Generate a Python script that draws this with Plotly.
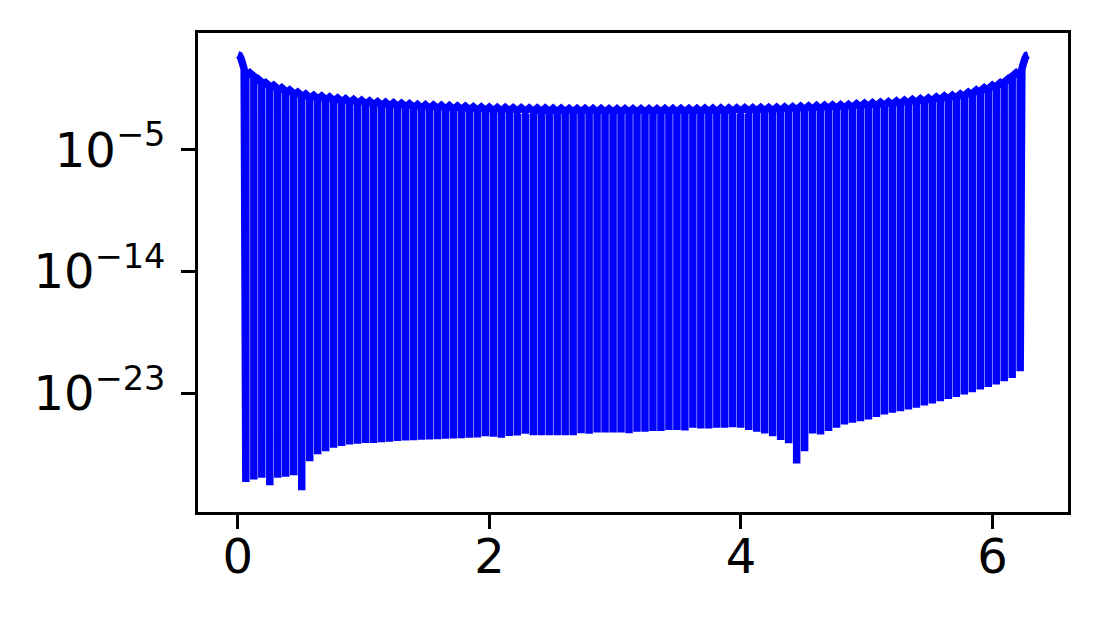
import numpy as np
import plotly.graph_objects as go

# sample nodes: 98 equally spaced interior points, step 2*pi/99
n_nodes = 98
step = 2 * np.pi / 99

# log10 of the value at each node (the deep minima), k = 1..98
node_log = [
    -29.57, -29.37, -29.25, -29.81, -29.25, -29.17, -29.07, -30.17, -28.02, -27.52,
    -27.28, -27.03, -26.91, -26.79, -26.74, -26.67, -26.67, -26.62, -26.58, -26.54,
    -26.50, -26.47, -26.44, -26.42, -26.40, -26.37, -26.35, -26.33, -26.30, -26.28,
    -26.18, -26.22, -26.30, -26.17, -26.12, -26.00, -26.10, -26.10, -26.10, -26.10,
    -26.10, -26.10, -25.95, -26.00, -25.90, -25.90, -25.90, -25.90, -25.95, -25.85,
    -25.85, -25.80, -25.80, -25.71, -25.71, -25.75, -25.56, -25.61, -25.61, -25.56,
    -25.56, -25.51, -25.56, -25.71, -25.85, -25.97, -26.18, -26.45, -26.70, -28.20,
    -27.28, -25.98, -26.05, -25.80, -25.56, -25.31, -25.19, -25.07, -24.94, -24.75,
    -24.57, -24.45, -24.33, -24.20, -24.08, -23.91, -23.76, -23.59, -23.42, -23.27,
    -23.10, -22.93, -22.73, -22.54, -22.36, -22.11, -21.87, -21.38,
]

# log10 of the bump tops between node k and node k+1, k = 1..97
peak_log = [
    0.68, 0.24, -0.06, -0.25, -0.43, -0.60, -0.76, -0.90, -0.99, -1.04,
    -1.11, -1.19, -1.24, -1.29, -1.36, -1.41, -1.46, -1.51, -1.53, -1.58,
    -1.61, -1.66, -1.68, -1.70, -1.73, -1.75, -1.78, -1.80, -1.83, -1.85,
    -1.87, -1.88, -1.89, -1.90, -1.91, -1.92, -1.93, -1.935, -1.94, -1.95,
    -1.955, -1.96, -1.965, -1.97, -1.97, -1.975, -1.975, -1.98, -1.98, -1.98,
    -1.975, -1.975, -1.97, -1.97, -1.965, -1.96, -1.955, -1.95, -1.94, -1.935,
    -1.93, -1.92, -1.91, -1.90, -1.89, -1.88, -1.87, -1.85, -1.83, -1.80,
    -1.78, -1.75, -1.73, -1.70, -1.68, -1.66, -1.61, -1.58, -1.53, -1.51,
    -1.46, -1.41, -1.36, -1.29, -1.24, -1.19, -1.11, -1.04, -0.99, -0.90,
    -0.76, -0.60, -0.43, -0.25, -0.06, 0.24, 0.68,
]

# curve at the two ends (before the first node / after the last one)
start_x = [0.0, 0.012, 0.025, 0.038, 0.05]
start_log = [2.02, 1.98, 1.75, 1.35, 0.95]
end_x = [6.233, 6.245, 6.258, 6.271, 6.283]
end_log = [0.95, 1.35, 1.75, 1.98, 2.02]

shoulder = 0.25  # how far the bump top sags at a node before the drop

xs = list(start_x)
ys = list(start_log)
for k in range(1, n_nodes + 1):
    xk = k * step
    if k > 1:
        xs.append(xk)
        ys.append(peak_log[k - 2] - shoulder)
    xs.append(xk)
    ys.append(node_log[k - 1])
    if k < n_nodes:
        xs.append(xk)
        ys.append(peak_log[k - 1] - shoulder)
        xs.append(xk + step / 2)
        ys.append(peak_log[k - 1])
xs += end_x
ys += end_log
ys = [10 ** v for v in ys]

fig = go.Figure()
fig.add_trace(go.Scatter(
    x=xs, y=ys, mode="lines",
    line=dict(color="#0000ff", width=7.5, simplify=False),
    showlegend=False,
))

# the page body adds 8px on the left/top, so margins are shifted for that
fig.update_layout(
    width=1102, height=621,
    margin=dict(l=190, r=42, t=25, b=117),
    paper_bgcolor="white", plot_bgcolor="white",
    font=dict(family="DejaVu Sans", size=48, color="black"),
)
fig.update_xaxes(
    range=[-0.317, 6.6], tick0=0, dtick=2,
    showgrid=False, zeroline=False,
    showline=True, mirror=True, linecolor="black", linewidth=3,
    ticks="outside", ticklen=14, tickwidth=3, tickcolor="black",
    ticklabelstandoff=-14,
)
fig.update_yaxes(
    type="log", range=[-31.78, 3.63],
    tickvals=[1e-5, 1e-14, 1e-23],
    ticktext=["10<sup>−5</sup>", "10<sup>−14</sup>", "10<sup>−23</sup>"],
    showgrid=False, zeroline=False,
    showline=True, mirror=True, linecolor="black", linewidth=3,
    ticks="outside", ticklen=14, tickwidth=3, tickcolor="black",
    ticklabelstandoff=6,
)

fig.write_html("out.html")
